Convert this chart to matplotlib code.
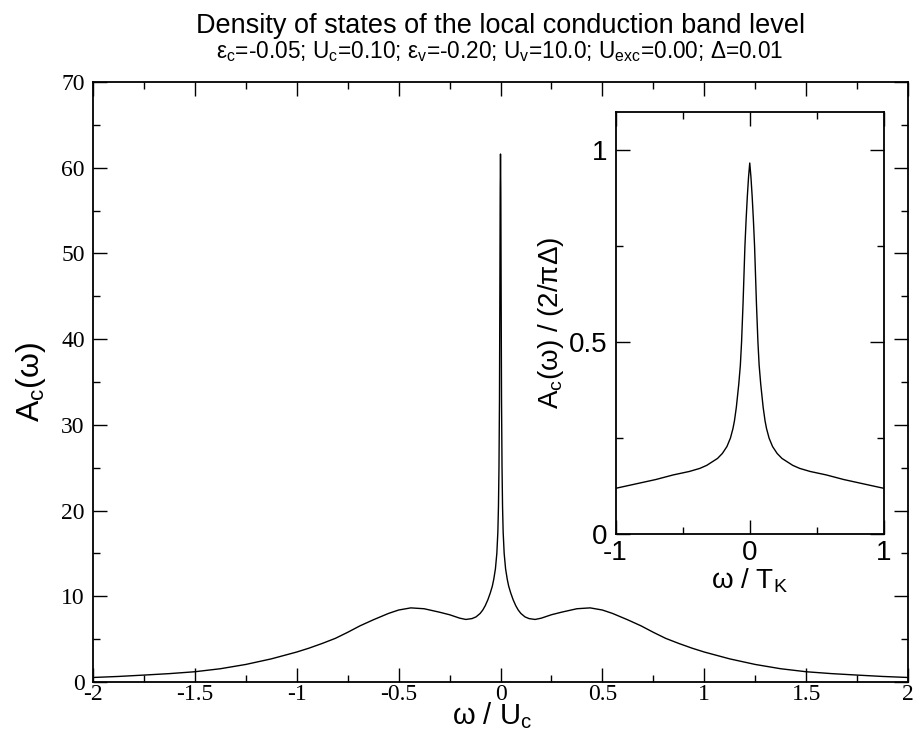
import matplotlib
matplotlib.use("Agg")
import matplotlib.pyplot as plt
from matplotlib.ticker import MultipleLocator

plt.rcParams['font.family'] = ['Liberation Sans', 'DejaVu Sans']
plt.rcParams['mathtext.fontset'] = 'custom'
plt.rcParams['mathtext.rm'] = 'Liberation Sans'
plt.rcParams['mathtext.it'] = 'Liberation Sans'
plt.rcParams['axes.unicode_minus'] = False

# spectral function A_c(w), w in units of U_c
w_main = [-2.0, -1.875, -1.75, -1.625, -1.5, -1.375, -1.25, -1.125, -1.0,
          -0.94, -0.875, -0.81, -0.75, -0.69, -0.625, -0.55, -0.5, -0.44,
          -0.375, -0.3, -0.25, -0.2, -0.17, -0.14, -0.12, -0.1, -0.087,
          -0.075, -0.062, -0.05, -0.04, -0.033, -0.025, -0.018,
          -0.013, -0.01, -0.0075, -0.005, -0.0032, -0.0015, 0.0,
          0.0015, 0.0032, 0.005, 0.0075, 0.01, 0.013, 0.018, 0.025, 0.033,
          0.04, 0.05, 0.062, 0.075, 0.087, 0.1, 0.12, 0.14, 0.17, 0.2, 0.25,
          0.3, 0.375, 0.44, 0.5, 0.55, 0.625, 0.69, 0.75, 0.81, 0.875, 0.94,
          1.0, 1.125, 1.25, 1.375, 1.5, 1.625, 1.75, 1.875, 2.0]
A_main = [0.53, 0.65, 0.81, 0.98, 1.2, 1.55, 2.05, 2.7, 3.5,
          3.95, 4.5, 5.1, 5.8, 6.55, 7.25, 8.0, 8.4, 8.65,
          8.55, 8.15, 7.85, 7.45, 7.3, 7.4, 7.6, 8.0, 8.4,
          8.9, 9.6, 10.4, 11.2, 12.0, 13.2, 15.0,
          17.5, 20.5, 25.0, 33.0, 45.0, 57.5, 61.6,
          57.5, 45.0, 33.0, 25.0, 20.5, 17.5, 15.0, 13.2, 12.0,
          11.2, 10.4, 9.6, 8.9, 8.4, 8.0, 7.6, 7.4, 7.3, 7.45, 7.85,
          8.15, 8.55, 8.65, 8.4, 8.0, 7.25, 6.55, 5.8, 5.1, 4.5, 3.95,
          3.5, 2.7, 2.05, 1.55, 1.2, 0.98, 0.81, 0.65, 0.53]

# normalised Kondo peak, w in units of T_K
w_inset = [-1.0, -0.83, -0.7, -0.57, -0.45, -0.372, -0.32, -0.28, -0.24,
           -0.204, -0.17, -0.144, -0.125, -0.114, -0.1, -0.082, -0.07,
           -0.061, -0.05, -0.036, -0.027, -0.018, -0.009, 0.0,
           0.009, 0.018, 0.027, 0.036, 0.05, 0.061, 0.07, 0.082, 0.1,
           0.114, 0.125, 0.144, 0.17, 0.204, 0.24, 0.28, 0.32, 0.372,
           0.45, 0.57, 0.7, 0.83, 1.0]
A_inset = [0.119, 0.132, 0.142, 0.154, 0.163, 0.171, 0.179, 0.188, 0.197,
           0.21, 0.228, 0.25, 0.275, 0.295, 0.33, 0.39, 0.44,
           0.5, 0.6, 0.75, 0.82, 0.88, 0.93, 0.967,
           0.93, 0.88, 0.82, 0.75, 0.6, 0.5, 0.44, 0.39, 0.33,
           0.295, 0.275, 0.25, 0.228, 0.21, 0.197, 0.188, 0.179, 0.171,
           0.163, 0.154, 0.142, 0.132, 0.119]

title = "Density of states of the local conduction band level"
subtitle = (r"ε$_\mathrm{c}$=-0.05; U$_\mathrm{c}$=0.10; ε$_\mathrm{v}$=-0.20; "
            r"U$_\mathrm{v}$=10.0; U$_\mathrm{exc}$=0.00; Δ=0.01")


def grace_axes(ax, lw=1.3):
    for s in ax.spines.values():
        s.set_linewidth(lw)
    ax.tick_params(which='both', direction='in', top=True, right=True, width=1.0)
    ax.tick_params(which='major', length=10)
    ax.tick_params(which='minor', length=5)


fig = plt.figure(figsize=(9.16, 7.31), dpi=100)

ax = fig.add_axes([0.1015, 0.067, 0.8898, 0.8208])
ax.plot(w_main, A_main, color='black', lw=1.0)
ax.set_xlim(-2, 2)
ax.set_ylim(0, 70)
ax.xaxis.set_major_locator(MultipleLocator(0.5))
ax.xaxis.set_minor_locator(MultipleLocator(0.25))
ax.yaxis.set_major_locator(MultipleLocator(10))
ax.yaxis.set_minor_locator(MultipleLocator(5))
ax.xaxis.set_major_formatter(plt.FuncFormatter(lambda v, p: f"{v:g}"))
grace_axes(ax)
ax.tick_params(axis='x', pad=1.5)
ax.tick_params(axis='y', pad=6)
for lab in ax.get_xticklabels() + ax.get_yticklabels():
    lab.set_fontfamily('Liberation Serif')
    lab.set_fontsize(17)
ax.set_xlabel(r"ω / U$_\mathrm{c}$", fontsize=21, va='baseline')
ax.xaxis.set_label_coords(0.49, -0.07)
ax.set_ylabel(r"A$_\mathrm{c}$(ω)", fontsize=23)
ax.yaxis.set_label_coords(-0.055, 0.5)

fig.text(0.546, 0.955, title, ha='center', va='baseline', fontsize=19.5)
fig.text(0.546, 0.921, subtitle, ha='center', va='baseline', fontsize=16.3)

ins = fig.add_axes([0.672, 0.2695, 0.293, 0.5773])
ins.plot(w_inset, A_inset, color='black', lw=1.0)
ins.set_xlim(-1, 1)
ins.set_ylim(0, 1.1)
ins.xaxis.set_major_locator(MultipleLocator(1))
ins.xaxis.set_minor_locator(MultipleLocator(0.5))
ins.yaxis.set_major_locator(MultipleLocator(0.5))
ins.yaxis.set_minor_locator(MultipleLocator(0.25))
ins.xaxis.set_major_formatter(plt.FuncFormatter(lambda v, p: f"{v:g}"))
ins.yaxis.set_major_formatter(plt.FuncFormatter(lambda v, p: f"{v:g}"))
grace_axes(ins)
ins.tick_params(labelsize=20)
ins.tick_params(axis='x', pad=4)
ins.tick_params(axis='y', pad=6)
ins.set_xlabel(r"ω / T$_\mathrm{K}$", fontsize=20, labelpad=1)
ins.set_ylabel(r"A$_\mathrm{c}$(ω) / (2/πΔ)", fontsize=20, labelpad=2)

fig.savefig("out.png", dpi=100)
